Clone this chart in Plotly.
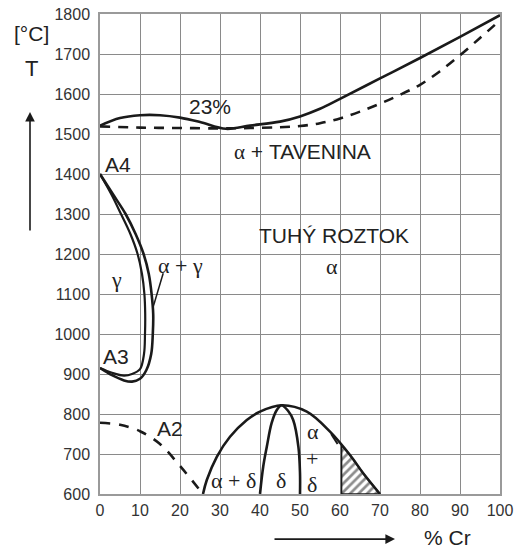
import plotly.graph_objects as go

# ---- data ----
x_ticks = [0, 10, 20, 30, 40, 50, 60, 70, 80, 90, 100]
y_ticks = [600, 700, 800, 900, 1000, 1100, 1200, 1300, 1400, 1500, 1600, 1700, 1800]

liquidus_x = [0, 5, 10, 15, 20, 25, 31.5, 37.5, 45, 50, 55, 60, 70, 80, 90, 100]
liquidus_y = [1521, 1540, 1547, 1547, 1541, 1530, 1513, 1521, 1531, 1544, 1563, 1588, 1639, 1690, 1743, 1797]

solidus_x = [0, 10, 20, 30, 37.5, 45, 50, 55, 60, 65, 70, 75, 80, 85, 90, 95, 99.3]
solidus_y = [1519, 1516, 1515, 1514, 1515, 1517, 1520, 1527, 1539, 1556, 1576, 1598, 1623, 1657, 1697, 1740, 1778]

loop_outer_x = [0, 3.2, 6.4, 8.9, 10.9, 12.2, 12.9, 13.3, 13.2, 12.8, 11.6, 10, 8, 6, 3, 0]
loop_outer_y = [1400, 1350, 1300, 1250, 1200, 1150, 1100, 1050, 1000, 950, 910, 888, 881, 884, 897, 915]
loop_inner_x = [0, 2.8, 5.25, 7.6, 9.4, 10.5, 11.1, 11.3, 11.25, 11.0, 10.0, 8, 6, 3, 0]
loop_inner_y = [1400, 1350, 1300, 1250, 1200, 1150, 1100, 1050, 1000, 950, 912, 900, 896, 903, 915]

a2_x = [0, 5, 10, 15, 20, 25.5]
a2_y = [778, 773, 757, 725, 670, 603]

dome_x = [25.75, 26.7, 29.2, 32.5, 36.7, 40, 45.4, 51.7, 57.5, 62.5, 65.8, 70]
dome_y = [600, 635, 693, 743, 785, 806, 822, 806, 756, 697.5, 652, 600]

delta_x = [40, 40.8, 41.7, 42.9, 44.2, 45.4, 47.0, 48.3, 49.6, 50, 50]
delta_y = [600, 668, 718, 777, 810, 822, 808, 785, 718, 652, 600]

hatch_x = [60.4, 60.4, 62.5, 65.8, 70, 60.4]
hatch_y = [600, 722, 697.5, 652, 600, 600]

mark_x = [57.8, 59.4]
mark_y = [750, 725]

leader_x = [15.8, 13.3]
leader_y = [1152, 1068]

BLACK = "#1a1a1a"
FONT = "Liberation Sans, Arial, sans-serif"
GREEK = "Liberation Serif, Times New Roman, serif"

fig = go.Figure()

def curve(x, y, dash=None, width=2.6, shape="spline"):
    fig.add_trace(go.Scatter(x=x, y=y, mode="lines",
                             line=dict(color=BLACK, width=width, dash=dash, shape=shape),
                             hoverinfo="skip", showlegend=False))

fig.add_trace(go.Scatter(x=hatch_x, y=hatch_y, mode="lines", fill="toself",
                         fillcolor="rgba(0,0,0,0)",
                         fillpattern=dict(shape="/", fgcolor=BLACK, bgcolor="white", size=6, solidity=0.45),
                         line=dict(color=BLACK, width=1.5), hoverinfo="skip", showlegend=False))

curve(liquidus_x, liquidus_y)
curve(solidus_x, solidus_y, dash="10px,8px")
curve(loop_outer_x, loop_outer_y)
curve(loop_inner_x, loop_inner_y, width=2.2)
curve(a2_x, a2_y, dash="10px,9px")
curve(dome_x, dome_y)
curve(delta_x, delta_y)
curve(mark_x, mark_y, width=2, shape="linear")
curve(leader_x, leader_y, width=1.5, shape="linear")

def g(s):
    return f'<span style="font-family:{GREEK}">{s}</span>'

labels = [
    ("23%", 27.5, 1570, 21),
    (g("α") + " + TAVENINA", 50.6, 1454, 21),
    ("TUHÝ ROZTOK", 58.5, 1247, 21),
    (g("α"), 58.1, 1168, 22),
    ("A4", 4.6, 1423, 21),
    ("A3", 4.0, 944, 21),
    (g("γ"), 4.2, 1137, 22),
    (g("α + γ"), 20.0, 1172, 22),
    ("A2", 17.5, 763, 21),
    (g("α + δ"), 33.3, 634, 22),
    (g("δ"), 45.2, 634, 22),
    (g("α"), 53.3, 757, 22),
    (g("+"), 52.9, 689, 22),
    (g("δ"), 52.9, 624, 22),
]
for txt, x, y, s in labels:
    fig.add_annotation(x=x, y=y, text=txt, showarrow=False,
                       xanchor="center", yanchor="middle",
                       font=dict(family=FONT, size=s, color="#222"))

# outside texts and arrows (paper coords)
fig.add_annotation(xref="paper", yref="paper", x=-0.171, y=0.959, text="[°C]",
                   xanchor="center", yanchor="middle",
                   showarrow=False, font=dict(family=FONT, size=21, color="#222"))
fig.add_annotation(xref="paper", yref="paper", x=-0.1725, y=0.8875, text="T",
                   xanchor="center", yanchor="middle",
                   showarrow=False, font=dict(family=FONT, size=22, color="#222"))
fig.add_annotation(xref="paper", yref="paper", x=-0.175, y=0.796, text="",
                   showarrow=True, ax=0, ay=120, arrowhead=2, arrowsize=1.2,
                   arrowwidth=1.6, arrowcolor=BLACK)
fig.add_annotation(xref="paper", yref="paper", x=0.7375, y=-0.094, text="",
                   showarrow=True, ax=-122, ay=0, arrowhead=2, arrowsize=1.2,
                   arrowwidth=1.6, arrowcolor=BLACK)
fig.add_annotation(xref="paper", yref="paper", x=0.869, y=-0.0896, text="% Cr",
                   xanchor="center", yanchor="middle",
                   showarrow=False, font=dict(family=FONT, size=21, color="#222"))

axis_common = dict(showgrid=True, gridcolor="#8a8a8a", gridwidth=1,
                   showline=True, linecolor="#9a9a9a", linewidth=1.5, mirror=True,
                   zeroline=False, ticks="outside", tickcolor="rgba(0,0,0,0)",
                   ticklabeloverflow="allow",
                   tickfont=dict(family=FONT, size=16, color="#333"))
fig.update_xaxes(range=[0, 100], tickvals=x_ticks, ticktext=[str(v) for v in x_ticks],
                 ticklen=1, **axis_common)
fig.update_yaxes(range=[600, 1800], tickvals=y_ticks, ticktext=[str(v) for v in y_ticks],
                 ticklen=5, **axis_common)

fig.update_layout(width=516, height=548,
                  margin=dict(l=100, r=16, t=14, b=54, autoexpand=False),
                  paper_bgcolor="white", plot_bgcolor="white", showlegend=False)

# remove the page's default body margin so the figure fills the window
fig.write_html("out.html", config={"displayModeBar": False},
               post_script="document.body.style.margin='0';")
